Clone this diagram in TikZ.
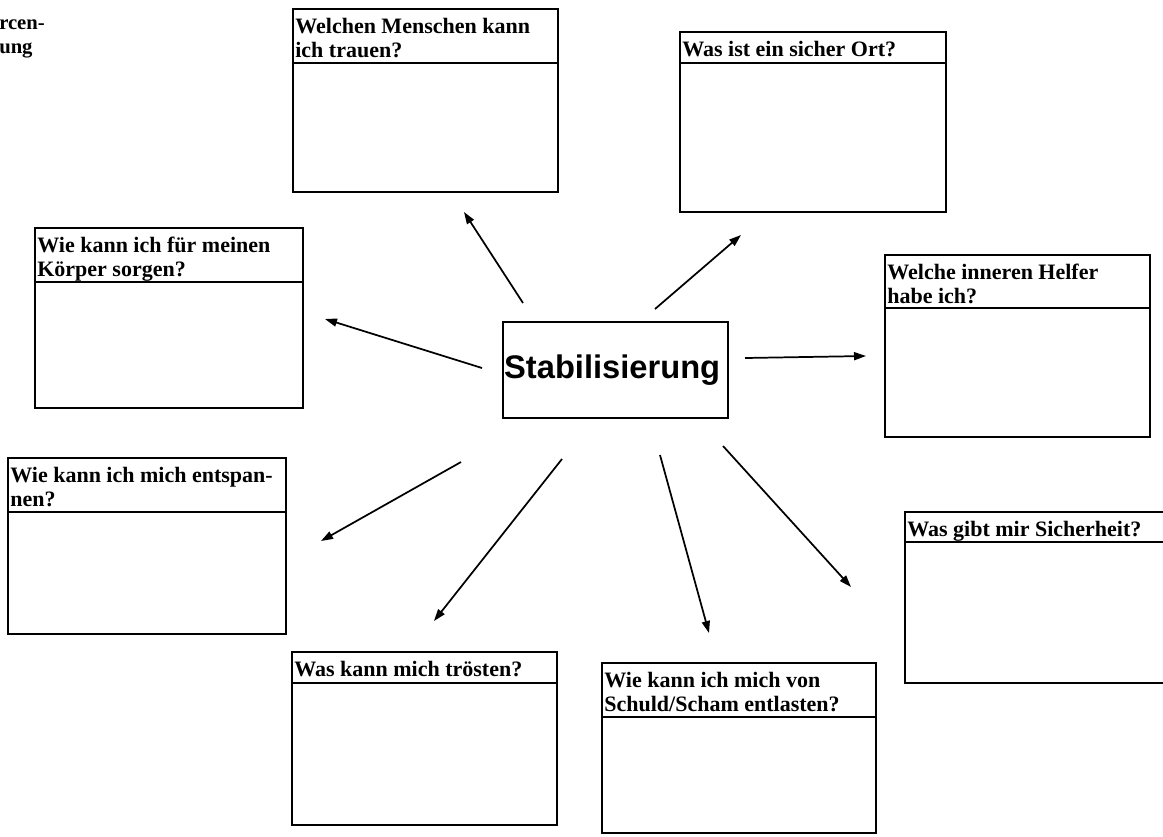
\documentclass[tikz,border=0pt]{standalone}
\usepackage{fontspec}
\setmainfont{Liberation Serif}
\newfontfamily\hdsans{Liberation Sans}
\usetikzlibrary{arrows.meta,fit}
\tikzset{
  qbox/.style={draw, line width=1.4pt, inner sep=0pt, rectangle},
  divline/.style={line width=1.4pt},
  qtitle/.style={inner sep=0pt, anchor=north west, align=left,
    font=\fontsize{16.5}{18}\selectfont\bfseries},
  hub/.style={draw, line width=1.4pt, inner sep=0pt, rectangle},
  hubtext/.style={font=\fontsize{24.5}{28}\selectfont\hdsans\bfseries, inner sep=0pt},
  ray/.style={line width=1.3pt, -{Triangle[length=9pt,width=6pt]}},
  cornertext/.style={inner sep=0pt, anchor=base west, align=left,
    font=\fontsize{15.5}{18}\selectfont\bfseries}
}
\newcommand{\qboxdraw}[7]{%
  \coordinate (#1-nw) at (#2,#3);
  \coordinate (#1-se) at (#4,#5);
  \node[qbox, fit=(#1-nw)(#1-se)] (#1) {};
  \coordinate (#1-dl) at (#2,#6);
  \coordinate (#1-dr) at (#4,#6);
  \draw[divline] (#1-dl) -- (#1-dr);
  \node[qtitle] (#1-t) at ([shift={(3,8)}]#1.north west) {\strut#7};
}
\begin{document}
\begin{tikzpicture}[x=0.75pt,y=-0.75pt]
\clip (0,0) rectangle (1163,836);
\fill[white] (0,0) rectangle (1163,836);

\node[cornertext] (corner) at (-1,53) {rcen-\\ung};

\qboxdraw{b1}{293}{9}{558}{192}{63}{Welchen Menschen kann\\ich trauen?}
\qboxdraw{b2}{680}{32}{946}{212}{63}{Was ist ein sicher Ort?}
\qboxdraw{b3}{35}{228}{303}{408}{282}{Wie kann ich für meinen\\Körper sorgen?}
\qboxdraw{b5}{885}{255}{1150}{437}{308}{Welche inneren Helfer\\habe ich?}
\qboxdraw{b6}{8}{458}{286}{634}{512}{Wie kann ich mich entspan-\\nen?}
\qboxdraw{b7}{905}{512}{1180}{683}{542}{Was gibt mir Sicherheit?}
\qboxdraw{b8}{292}{652}{557}{825}{683}{Was kann mich trösten?}
\qboxdraw{b9}{602}{663}{876}{833}{717}{Wie kann ich mich von\\Schuld/Scham entlasten?}

\coordinate (c-nw) at (503,322);
\coordinate (c-se) at (728,418);
\node[hub, fit=(c-nw)(c-se)] (c) {};
\node[hubtext] (ct) at ([xshift=-2.5pt, yshift=0pt]c.center) {Stabilisierung};

\coordinate (a0) at (523,303); \coordinate (a1) at (464,212);
\coordinate (bb0) at (655,309); \coordinate (bb1) at (741,235);
\coordinate (c0) at (482,368); \coordinate (c1) at (325,319);
\coordinate (d0) at (745,358); \coordinate (d1) at (866,356);
\coordinate (e0) at (461,462); \coordinate (e1) at (321,541);
\coordinate (f0) at (562,459); \coordinate (f1) at (434,621);
\coordinate (g0) at (660,455); \coordinate (g1) at (709,633);
\coordinate (h0) at (723,446); \coordinate (h1) at (851,587);

\draw[ray] (a0) -- (a1);
\draw[ray] (bb0) -- (bb1);
\draw[ray] (c0) -- (c1);
\draw[ray] (d0) -- (d1);
\draw[ray] (e0) -- (e1);
\draw[ray] (f0) -- (f1);
\draw[ray] (g0) -- (g1);
\draw[ray] (h0) -- (h1);
\end{tikzpicture}
\end{document}
